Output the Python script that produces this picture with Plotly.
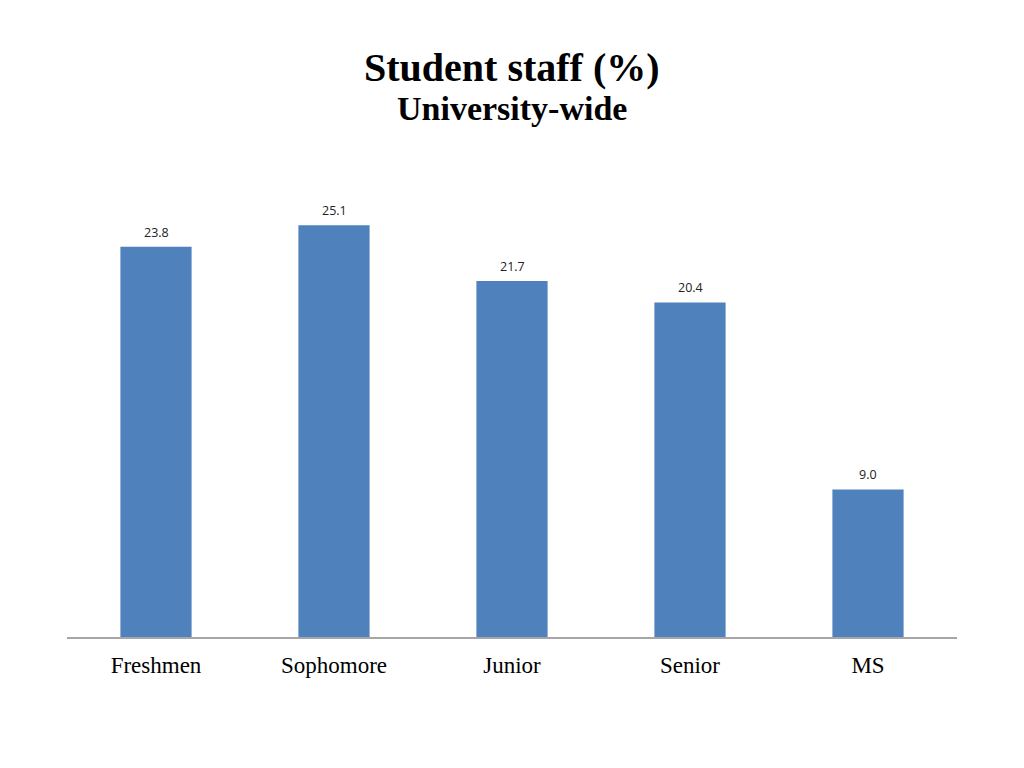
import plotly.graph_objects as go

# data
categories = ["Freshmen", "Sophomore", "Junior", "Senior", "MS"]
values = [23.8, 25.1, 21.7, 20.4, 9.0]
value_labels = ["23.8", "25.1", "21.7", "20.4", "9.0"]

bar_color = "#4F81BD"
serif = "Liberation Serif, Times New Roman, serif"

fig = go.Figure()
fig.add_trace(go.Bar(
    x=categories, y=values,
    marker=dict(color=bar_color, line=dict(width=0)),
    width=0.4,
    hoverinfo="x+y",
))

# value labels sit a little above each bar
for cat, val, lab in zip(categories, values, value_labels):
    fig.add_annotation(
        x=cat, y=val, text=lab, showarrow=False,
        yanchor="bottom", yshift=4,
        font=dict(family="Open Sans, Liberation Sans, sans-serif", size=12.5, color="#222222"),
    )

# title + subtitle
fig.add_annotation(text="<b>Student staff (%)</b>", xref="paper", yref="paper",
                   x=0.5, y=1, yshift=78, showarrow=False, yanchor="middle",
                   font=dict(family=serif, size=40, color="black"))
fig.add_annotation(text="<b>University-wide</b>", xref="paper", yref="paper",
                   x=0.5, y=1, yshift=37, showarrow=False, yanchor="middle",
                   font=dict(family=serif, size=34, color="black"))

fig.update_layout(
    width=1024, height=768,
    paper_bgcolor="white", plot_bgcolor="white",
    margin=dict(l=59, r=75, t=137, b=139),
    showlegend=False,
)
fig.update_xaxes(
    showline=True, linecolor="#A6A6A6", linewidth=1.5,
    ticks="", showgrid=False, ticklabelstandoff=7,
    tickfont=dict(family=serif, size=23, color="black"),
)
fig.update_yaxes(range=[0, 30], visible=False, showgrid=False)

fig.write_html("out.html")
